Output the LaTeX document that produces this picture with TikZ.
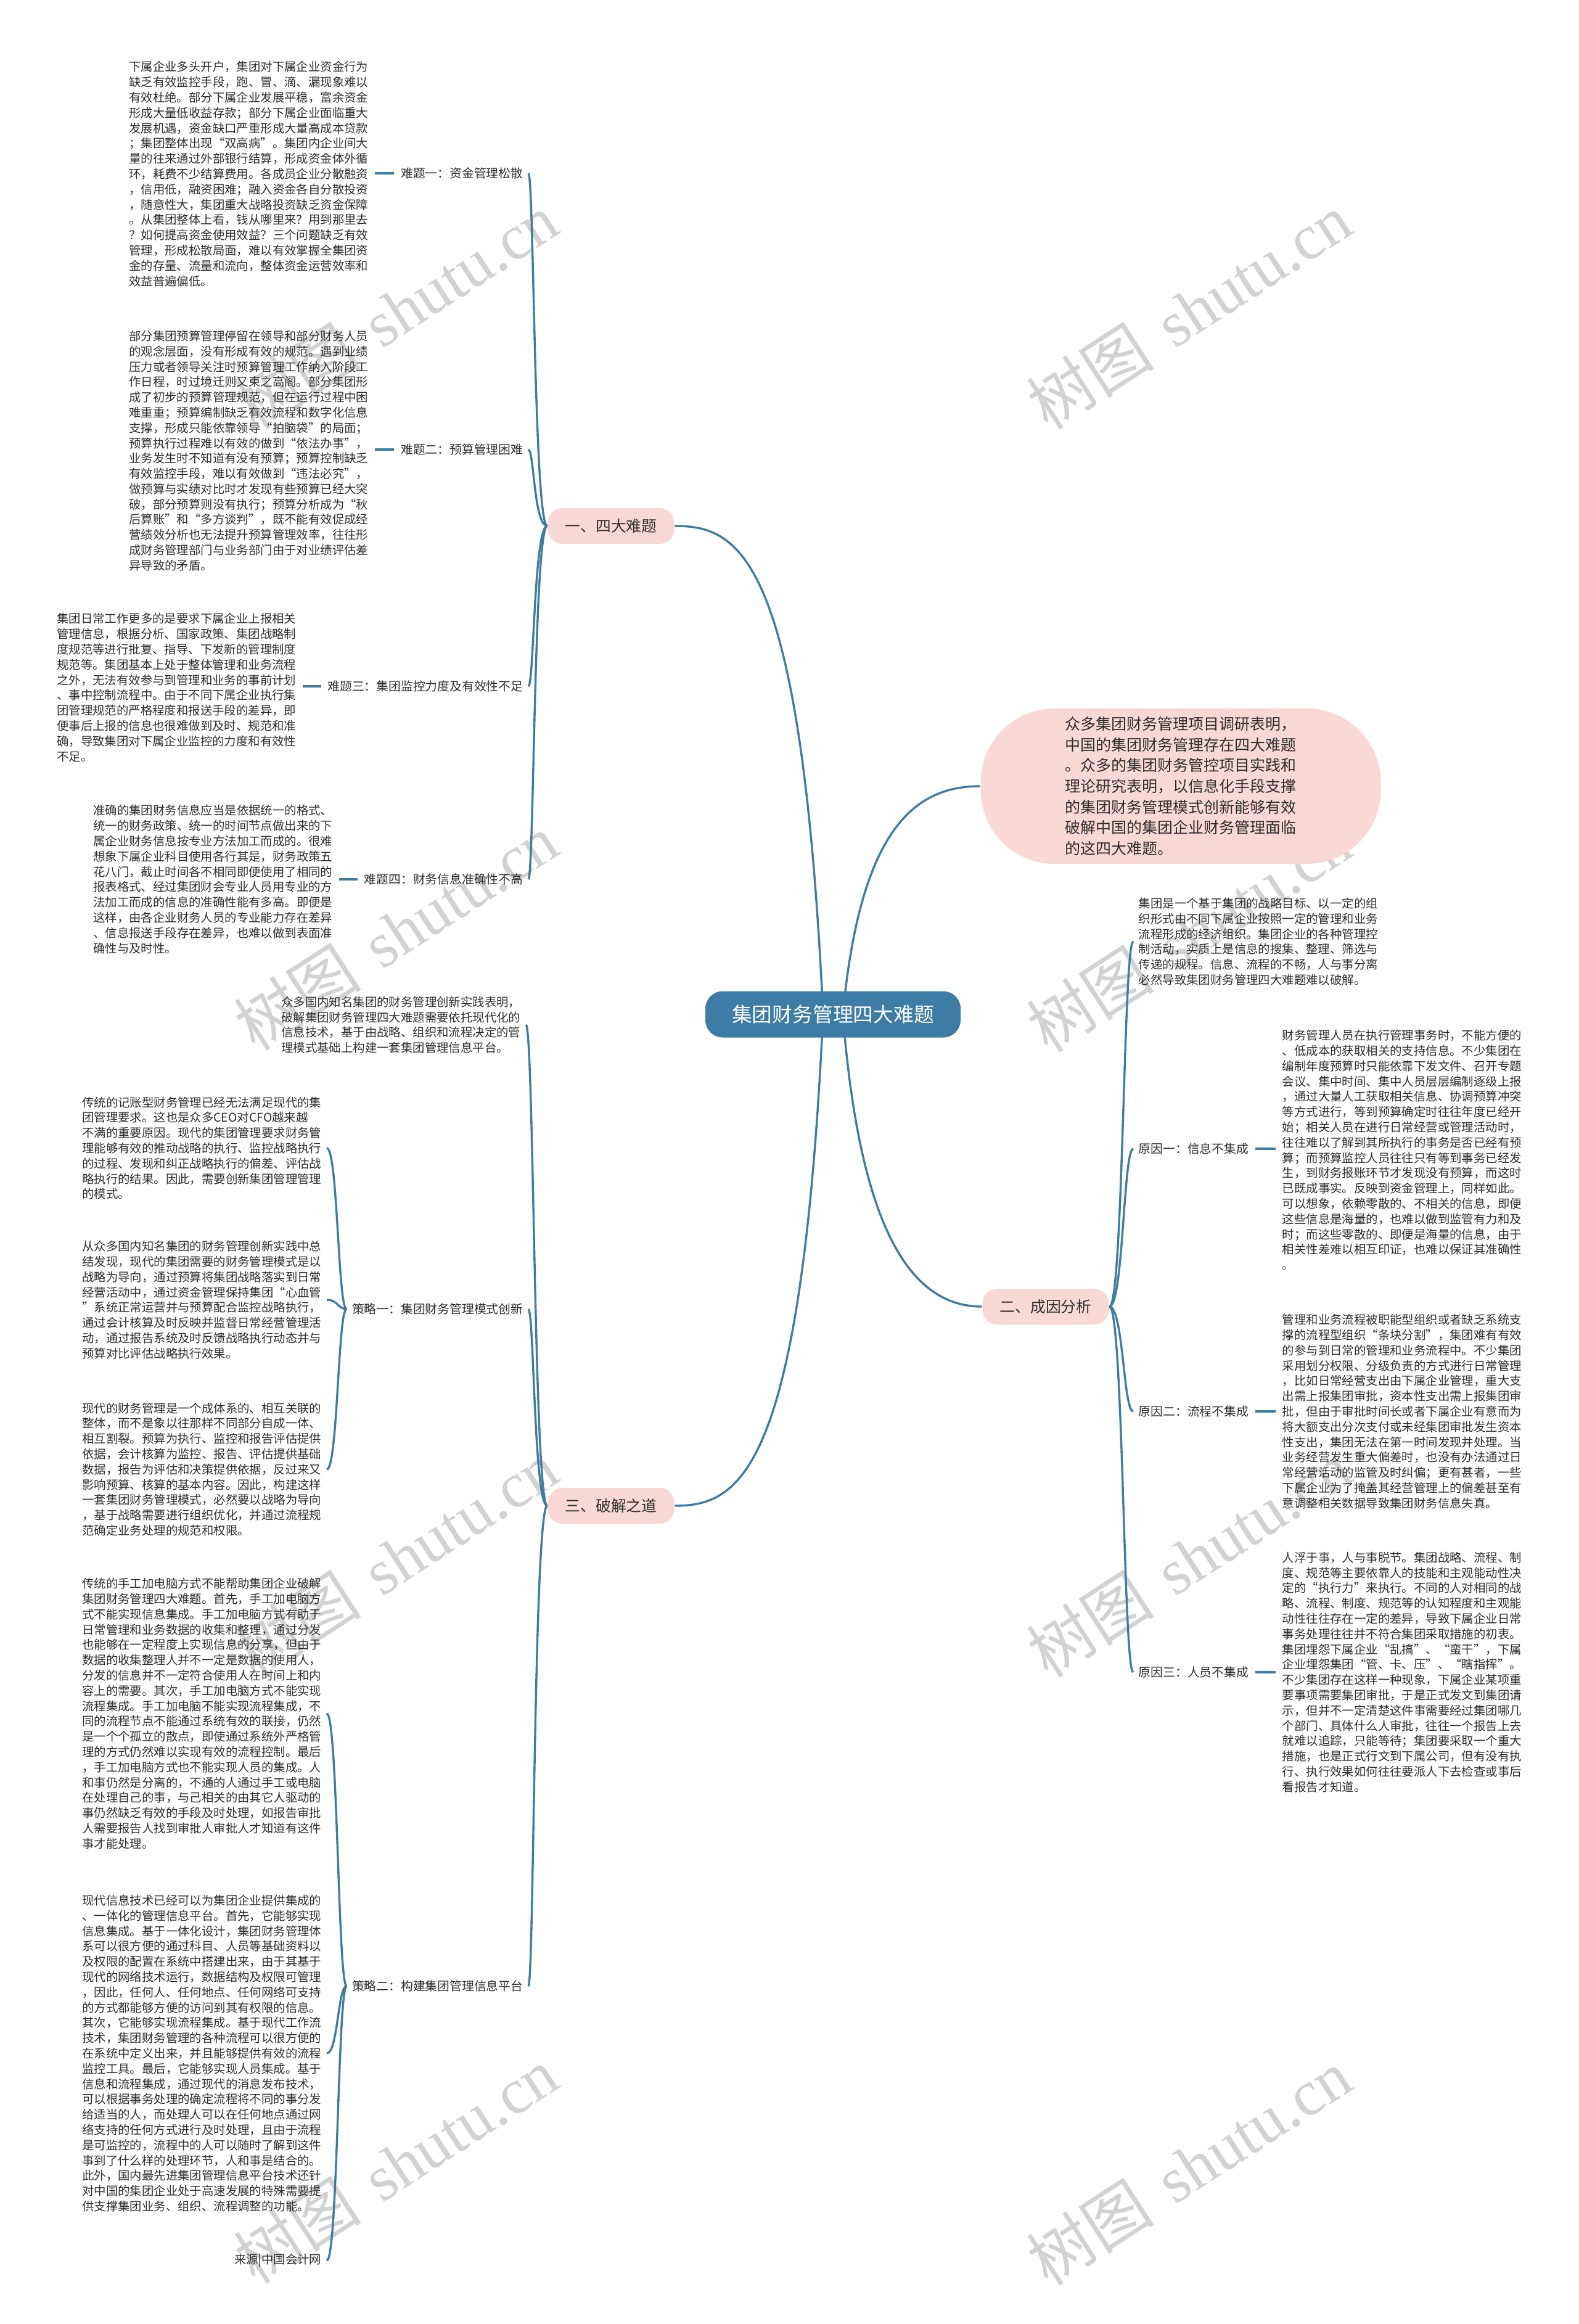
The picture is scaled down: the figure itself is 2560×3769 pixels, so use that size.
\documentclass[tikz,border=0pt]{standalone}
\usepackage{fontspec}
\setmainfont{Noto Sans CJK SC}
\newfontfamily\wmserif{Liberation Serif}
\usetikzlibrary{calc}
\definecolor{mainblue}{HTML}{3D7CA5}
\definecolor{pinkfill}{HTML}{F9D8D6}
\definecolor{txt}{HTML}{2E2E2E}
\definecolor{wmgray}{HTML}{D2D2D2}
\pgfdeclarelayer{wm}
\pgfdeclarelayer{background}
\pgfsetlayers{wm,background,main}
\tikzset{
 conn/.style={draw=mainblue, line width=0.85pt},
 para/.style={font=\fontsize{4.85pt}{6.2pt}\selectfont, text=txt, align=left, inner sep=0pt},
 lab/.style={font=\fontsize{4.95pt}{6pt}\selectfont, text=txt, inner sep=0pt},
 rootbox/.style={fill=mainblue, text=white, rounded corners=7pt, minimum width=103.5pt, minimum height=18.75pt, inner sep=0pt, font=\fontsize{8.2pt}{10pt}\selectfont},
 lvlbox/.style={fill=pinkfill, text=txt, rounded corners=6pt, minimum width=51.25pt, minimum height=14.5pt, inner sep=0pt, font=\fontsize{6.2pt}{7.5pt}\selectfont},
 bigpink/.style={fill=pinkfill, text=txt, rounded corners=30pt, minimum width=162.25pt, minimum height=63pt, inner sep=0pt, align=left, font=\fontsize{6.25pt}{8.4pt}\selectfont},
 wmark/.style={rotate=33, text=wmgray, inner sep=0pt, font=\fontsize{26pt}{30pt}\selectfont}
}
\begin{document}
\begin{tikzpicture}[x=0.25pt, y=-0.25pt]
\useasboundingbox (0,0) rectangle (2560,3769);
\begin{pgfonlayer}{wm}
\fill[white] (0,0) rectangle (2560,3769);
\node[wmark] (w1) at (642,505) {树图\hspace{0.35em}{\wmserif shutu.cn}};
\node[wmark] (w2) at (1928,505) {树图\hspace{0.35em}{\wmserif shutu.cn}};
\node[wmark] (w3) at (642,1512) {树图\hspace{0.35em}{\wmserif shutu.cn}};
\node[wmark] (w4) at (1928,1515) {树图\hspace{0.35em}{\wmserif shutu.cn}};
\node[wmark] (w5) at (642,2529) {树图\hspace{0.35em}{\wmserif shutu.cn}};
\node[wmark] (w6) at (1928,2529) {树图\hspace{0.35em}{\wmserif shutu.cn}};
\node[wmark] (w7) at (642,3512) {树图\hspace{0.35em}{\wmserif shutu.cn}};
\node[wmark] (w8) at (1928,3515) {树图\hspace{0.35em}{\wmserif shutu.cn}};
\end{pgfonlayer}

% root and level-1
\node[rootbox] (root) at (1351,1645) {集团财务管理四大难题};
\node[lvlbox] (b1) at (991,853) {一、四大难题};
\node[lvlbox] (b2) at (1696,2119) {二、成因分析};
\node[lvlbox] (b3) at (991,2442) {三、破解之道};
\node[bigpink] (intro) at (1915,1275) {众多集团财务管理项目调研表明，\\中国的集团财务管理存在四大难题\\。众多的集团财务管控项目实践和\\理论研究表明，以信息化手段支撑\\的集团财务管理模式创新能够有效\\破解中国的集团企业财务管理面临\\的这四大难题。};

% branch 1 labels
\node[lab, anchor=east] (l1) at (849,281) {难题一：资金管理松散};
\node[lab, anchor=east] (l2) at (849,729) {难题二：预算管理困难};
\node[lab, anchor=east] (l3) at (849,1113) {难题三：集团监控力度及有效性不足};
\node[lab, anchor=east] (l4) at (849,1426) {难题四：财务信息准确性不高};

\node[para, anchor=east] (p1) at (598,282) {下属企业多头开户，集团对下属企业资金行为\\缺乏有效监控手段，跑、冒、滴、漏现象难以\\有效杜绝。部分下属企业发展平稳，富余资金\\形成大量低收益存款；部分下属企业面临重大\\发展机遇，资金缺口严重形成大量高成本贷款\\；集团整体出现“双高病”。集团内企业间大\\量的往来通过外部银行结算，形成资金体外循\\环，耗费不少结算费用。各成员企业分散融资\\，信用低，融资困难；融入资金各自分散投资\\，随意性大，集团重大战略投资缺乏资金保障\\。从集团整体上看，钱从哪里来？用到那里去\\？如何提高资金使用效益？三个问题缺乏有效\\管理，形成松散局面，难以有效掌握全集团资\\金的存量、流量和流向，整体资金运营效率和\\效益普遍偏低。};

\node[para, anchor=east] (p2) at (598,731) {部分集团预算管理停留在领导和部分财务人员\\的观念层面，没有形成有效的规范。遇到业绩\\压力或者领导关注时预算管理工作纳入阶段工\\作日程，时过境迁则又束之高阁。部分集团形\\成了初步的预算管理规范，但在运行过程中困\\难重重；预算编制缺乏有效流程和数字化信息\\支撑，形成只能依靠领导“拍脑袋”的局面；\\预算执行过程难以有效的做到“依法办事”，\\业务发生时不知道有没有预算；预算控制缺乏\\有效监控手段，难以有效做到“违法必究”，\\做预算与实绩对比时才发现有些预算已经大突\\破，部分预算则没有执行；预算分析成为“秋\\后算账”和“多方谈判”，既不能有效促成经\\营绩效分析也无法提升预算管理效率，往往形\\成财务管理部门与业务部门由于对业绩评估差\\异导致的矛盾。};

\node[para, anchor=east] (p3) at (481,1115) {集团日常工作更多的是要求下属企业上报相关\\管理信息，根据分析、国家政策、集团战略制\\度规范等进行批复、指导、下发新的管理制度\\规范等。集团基本上处于整体管理和业务流程\\之外，无法有效参与到管理和业务的事前计划\\、事中控制流程中。由于不同下属企业执行集\\团管理规范的严格程度和报送手段的差异，即\\便事后上报的信息也很难做到及时、规范和准\\确，导致集团对下属企业监控的力度和有效性\\不足。};

\node[para, anchor=east] (p4) at (540,1426) {准确的集团财务信息应当是依据统一的格式、\\统一的财务政策、统一的时间节点做出来的下\\属企业财务信息按专业方法加工而成的。很难\\想象下属企业科目使用各行其是，财务政策五\\花八门，截止时间各不相同即便使用了相同的\\报表格式、经过集团财会专业人员用专业的方\\法加工而成的信息的准确性能有多高。即便是\\这样，由各企业财务人员的专业能力存在差异\\、信息报送手段存在差异，也难以做到表面准\\确性与及时性。};

% branch 3
\node[para, anchor=east] (i3) at (845,1662) {众多国内知名集团的财务管理创新实践表明，\\破解集团财务管理四大难题需要依托现代化的\\信息技术，基于由战略、组织和流程决定的管\\理模式基础上构建一套集团管理信息平台。};
\node[lab, anchor=east] (s1) at (849,2123) {策略一：集团财务管理模式创新};
\node[lab, anchor=east] (s2) at (849,3221) {策略二：构建集团管理信息平台};

\node[para, anchor=east] (pa) at (522,1862) {传统的记账型财务管理已经无法满足现代的集\\团管理要求。这也是众多CEO对CFO越来越\\不满的重要原因。现代的集团管理要求财务管\\理能够有效的推动战略的执行、监控战略执行\\的过程、发现和纠正战略执行的偏差、评估战\\略执行的结果。因此，需要创新集团管理管理\\的模式。};

\node[para, anchor=east] (pb) at (522,2108) {从众多国内知名集团的财务管理创新实践中总\\结发现，现代的集团需要的财务管理模式是以\\战略为导向，通过预算将集团战略落实到日常\\经营活动中，通过资金管理保持集团“心血管\\”系统正常运营并与预算配合监控战略执行，\\通过会计核算及时反映并监督日常经营管理活\\动，通过报告系统及时反馈战略执行动态并与\\预算对比评估战略执行效果。};

\node[para, anchor=east] (pc) at (522,2383) {现代的财务管理是一个成体系的、相互关联的\\整体，而不是象以往那样不同部分自成一体、\\相互割裂。预算为执行、监控和报告评估提供\\依据，会计核算为监控、报告、评估提供基础\\数据，报告为评估和决策提供依据，反过来又\\影响预算、核算的基本内容。因此，构建这样\\一套集团财务管理模式，必然要以战略为导向\\，基于战略需要进行组织优化，并通过流程规\\范确定业务处理的规范和权限。};

\node[para, anchor=east] (pd) at (522,2779) {传统的手工加电脑方式不能帮助集团企业破解\\集团财务管理四大难题。首先，手工加电脑方\\式不能实现信息集成。手工加电脑方式有助于\\日常管理和业务数据的收集和整理，通过分发\\也能够在一定程度上实现信息的分享，但由于\\数据的收集整理人并不一定是数据的使用人，\\分发的信息并不一定符合使用人在时间上和内\\容上的需要。其次，手工加电脑方式不能实现\\流程集成。手工加电脑不能实现流程集成，不\\同的流程节点不能通过系统有效的联接，仍然\\是一个个孤立的散点，即使通过系统外严格管\\理的方式仍然难以实现有效的流程控制。最后\\，手工加电脑方式也不能实现人员的集成。人\\和事仍然是分离的，不通的人通过手工或电脑\\在处理自己的事，与己相关的由其它人驱动的\\事仍然缺乏有效的手段及时处理，如报告审批\\人需要报告人找到审批人审批人才知道有这件\\事才能处理。};

\node[para, anchor=east] (pe) at (522,3330) {现代信息技术已经可以为集团企业提供集成的\\、一体化的管理信息平台。首先，它能够实现\\信息集成。基于一体化设计，集团财务管理体\\系可以很方便的通过科目、人员等基础资料以\\及权限的配置在系统中搭建出来，由于其基于\\现代的网络技术运行，数据结构及权限可管理\\，因此，任何人、任何地点、任何网络可支持\\的方式都能够方便的访问到其有权限的信息。\\其次，它能够实现流程集成。基于现代工作流\\技术，集团财务管理的各种流程可以很方便的\\在系统中定义出来，并且能够提供有效的流程\\监控工具。最后，它能够实现人员集成。基于\\信息和流程集成，通过现代的消息发布技术，\\可以根据事务处理的确定流程将不同的事分发\\给适当的人，而处理人可以在任何地点通过网\\络支持的任何方式进行及时处理，且由于流程\\是可监控的，流程中的人可以随时了解到这件\\事到了什么样的处理环节，人和事是结合的。\\此外，国内最先进集团管理信息平台技术还针\\对中国的集团企业处于高速发展的特殊需要提\\供支撑集团业务、组织、流程调整的功能。};

\node[para, anchor=east] (src) at (522,3666) {来源|中国会计网};

% branch 2
\node[para, anchor=west] (r0) at (1846,1527) {集团是一个基于集团的战略目标、以一定的组\\织形式由不同下属企业按照一定的管理和业务\\流程形成的经济组织。集团企业的各种管理控\\制活动，实质上是信息的搜集、整理、筛选与\\传递的规程。信息、流程的不畅，人与事分离\\必然导致集团财务管理四大难题难以破解。};
\node[lab, anchor=west] (k1) at (1846,1863) {原因一：信息不集成};
\node[lab, anchor=west] (k2) at (1846,2289) {原因二：流程不集成};
\node[lab, anchor=west] (k3) at (1846,2712) {原因三：人员不集成};

\node[para, anchor=west] (r1) at (2079,1865) {财务管理人员在执行管理事务时，不能方便的\\、低成本的获取相关的支持信息。不少集团在\\编制年度预算时只能依靠下发文件、召开专题\\会议、集中时间、集中人员层层编制逐级上报\\，通过大量人工获取相关信息、协调预算冲突\\等方式进行，等到预算确定时往往年度已经开\\始；相关人员在进行日常经营或管理活动时，\\往往难以了解到其所执行的事务是否已经有预\\算；而预算监控人员往往只有等到事务已经发\\生，到财务报账环节才发现没有预算，而这时\\已既成事实。反映到资金管理上，同样如此。\\可以想象，依赖零散的、不相关的信息，即便\\这些信息是海量的，也难以做到监管有力和及\\时；而这些零散的、即便是海量的信息，由于\\相关性差难以相互印证，也难以保证其准确性\\。};

\node[para, anchor=west] (r2) at (2079,2289) {管理和业务流程被职能型组织或者缺乏系统支\\撑的流程型组织“条块分割”，集团难有有效\\的参与到日常的管理和业务流程中。不少集团\\采用划分权限、分级负责的方式进行日常管理\\，比如日常经营支出由下属企业管理，重大支\\出需上报集团审批，资本性支出需上报集团审\\批，但由于审批时间长或者下属企业有意而为\\将大额支出分次支付或未经集团审批发生资本\\性支出，集团无法在第一时间发现并处理。当\\业务经营发生重大偏差时，也没有办法通过日\\常经营活动的监管及时纠偏；更有甚者，一些\\下属企业为了掩盖其经营管理上的偏差甚至有\\意调整相关数据导致集团财务信息失真。};

\node[para, anchor=west] (r3) at (2079,2712) {人浮于事，人与事脱节。集团战略、流程、制\\度、规范等主要依靠人的技能和主观能动性决\\定的“执行力”来执行。不同的人对相同的战\\略、流程、制度、规范等的认知程度和主观能\\动性往往存在一定的差异，导致下属企业日常\\事务处理往往并不符合集团采取措施的初衷。\\集团埋怨下属企业“乱搞”、“蛮干”，下属\\企业埋怨集团“管、卡、压”、“瞎指挥”。\\不少集团存在这样一种现象，下属企业某项重\\要事项需要集团审批，于是正式发文到集团请\\示，但并不一定清楚这件事需要经过集团哪几\\个部门、具体什么人审批，往往一个报告上去\\就难以追踪，只能等待；集团要采取一个重大\\措施，也是正式行文到下属公司，但有没有执\\行、执行效果如何往往要派人下去检查或事后\\看报告才知道。};

\begin{pgfonlayer}{background}
% root connectors
\draw[conn] ([xshift=-4pt]root.center) .. controls (1300,900) and (1200,853) .. (b1.east);
\draw[conn] ([xshift=-4pt]root.center) .. controls (1300,2390) and (1200,2442) .. (b3.east);
\draw[conn] ([xshift=4pt]root.center) .. controls (1395,1350) and (1480,1275) .. (intro.west);
\draw[conn] ([xshift=4pt]root.center) .. controls (1395,2000) and (1480,2119) .. (b2.west);
% branch 1
\draw[conn] (b1.west) .. controls (866,853) and (866,281) .. ([xshift=2pt]l1.east);
\draw[conn] (b1.west) .. controls (866,853) and (866,729) .. ([xshift=2pt]l2.east);
\draw[conn] (b1.west) .. controls (866,853) and (866,1113) .. ([xshift=2pt]l3.east);
\draw[conn] (b1.west) .. controls (866,853) and (866,1426) .. ([xshift=2pt]l4.east);
\draw[conn] ([xshift=-2.5pt]l1.west) -- ([xshift=2.5pt]p1.east |- l1.west);
\draw[conn] ([xshift=-2.5pt]l2.west) -- ([xshift=2.5pt]p2.east |- l2.west);
\draw[conn] ([xshift=-2.5pt]l3.west) -- ([xshift=2.5pt]p3.east |- l3.west);
\draw[conn] ([xshift=-2.5pt]l4.west) -- ([xshift=2.5pt]p4.east |- l4.west);
% branch 3
\draw[conn] (b3.west) .. controls (866,2442) and (866,1662) .. ([xshift=2pt]i3.east);
\draw[conn] (b3.west) .. controls (866,2442) and (866,2123) .. ([xshift=2pt]s1.east);
\draw[conn] (b3.west) .. controls (866,2442) and (866,3221) .. ([xshift=2pt]s2.east);
\draw[conn] ([xshift=-2pt]s1.west) .. controls (548,2123) and (548,1862) .. ([xshift=2pt]pa.east);
\draw[conn] ([xshift=-2pt]s1.west) .. controls (548,2123) and (548,2108) .. ([xshift=2pt]pb.east);
\draw[conn] ([xshift=-2pt]s1.west) .. controls (548,2123) and (548,2383) .. ([xshift=2pt]pc.east);
\draw[conn] ([xshift=-2pt]s2.west) .. controls (548,3221) and (548,2779) .. ([xshift=2pt]pd.east);
\draw[conn] ([xshift=-2pt]s2.west) .. controls (548,3221) and (548,3330) .. ([xshift=2pt]pe.east);
\draw[conn] ([xshift=-2pt]s2.west) .. controls (548,3221) and (548,3666) .. ([xshift=2pt]src.east);
% branch 2
\draw[conn] (b2.east) .. controls (1822,2119) and (1822,1527) .. ([xshift=-2pt]r0.west);
\draw[conn] (b2.east) .. controls (1822,2119) and (1822,1863) .. ([xshift=-2pt]k1.west);
\draw[conn] (b2.east) .. controls (1822,2119) and (1822,2289) .. ([xshift=-2pt]k2.west);
\draw[conn] (b2.east) .. controls (1822,2119) and (1822,2712) .. ([xshift=-2pt]k3.west);
\draw[conn] ([xshift=2.5pt]k1.east) -- ([xshift=-2.5pt]r1.west |- k1.east);
\draw[conn] ([xshift=2.5pt]k2.east) -- ([xshift=-2.5pt]r2.west |- k2.east);
\draw[conn] ([xshift=2.5pt]k3.east) -- ([xshift=-2.5pt]r3.west |- k3.east);
\end{pgfonlayer}
\end{tikzpicture}
\end{document}
